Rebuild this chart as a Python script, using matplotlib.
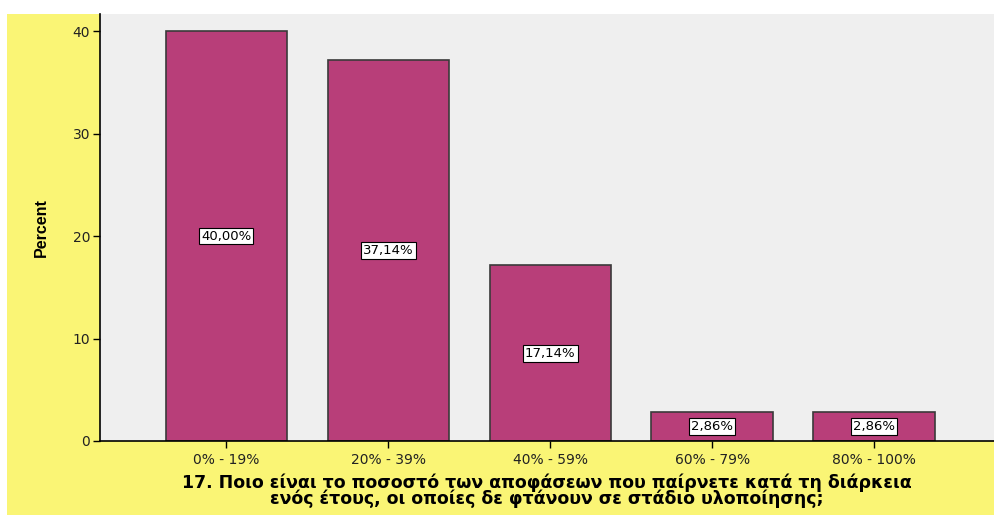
import matplotlib.pyplot as plt
from matplotlib.patches import Rectangle

# Data
categories = ["0% - 19%", "20% - 39%", "40% - 59%", "60% - 79%", "80% - 100%"]
percents = [40.00, 37.14, 17.14, 2.86, 2.86]
bar_labels = ["40,00%", "37,14%", "17,14%", "2,86%", "2,86%"]
y_ticks = [0, 10, 20, 30, 40]
x_title = ("17. Ποιο είναι το ποσοστό των αποφάσεων που παίρνετε κατά τη διάρκεια\n"
           "ενός έτους, οι οποίες δε φτάνουν σε στάδιο υλοποίησης;")

W, H = 994, 515
fig = plt.figure(figsize=(W / 100, H / 100), dpi=100)
fig.patch.set_facecolor("white")

# yellow chart frame, behind the axes
fig.patches.append(Rectangle((7 / W, 0), 1 - 7 / W, 1 - 14 / H,
                             transform=fig.transFigure, facecolor="#FAF575",
                             edgecolor="none", zorder=-10))

ax = fig.add_axes([100 / W, (H - 441) / H, (W - 100) / W, (441 - 14) / H])
ax.set_facecolor("#EFEFEF")

x = list(range(len(categories)))
bars = ax.bar(x, percents, width=0.75, color="#B83E79", edgecolor="#3a3a3a", linewidth=1.2)

for xi, val, lab in zip(x, percents, bar_labels):
    ax.text(xi, val / 2, lab, ha="center", va="center", fontsize=9.5, family="DejaVu Sans",
            bbox=dict(boxstyle="square,pad=0.15", facecolor="white", edgecolor="black", linewidth=0.8))

ax.set_xlim(-0.78, 4.74)
ax.set_ylim(0, 41.66)
ax.set_yticks(y_ticks)
ax.set_xticks(x)
ax.set_xticklabels(categories, fontsize=10, color="#222222")
ax.tick_params(axis="y", labelsize=10, labelcolor="#222222", length=5, width=1, direction="out", pad=2)
ax.tick_params(axis="x", length=5, width=1, direction="out", pad=4)

for s in ["top", "right"]:
    ax.spines[s].set_visible(False)
for s in ["left", "bottom"]:
    ax.spines[s].set_linewidth(1.2)

ax.set_ylabel("Percent", fontsize=11.5, fontweight="bold",
              family=["Liberation Sans", "DejaVu Sans"], labelpad=17)
ax.set_xlabel(x_title, fontsize=12.5, fontweight="bold", linespacing=0.85, labelpad=4)

fig.savefig("out.png", dpi=100)
